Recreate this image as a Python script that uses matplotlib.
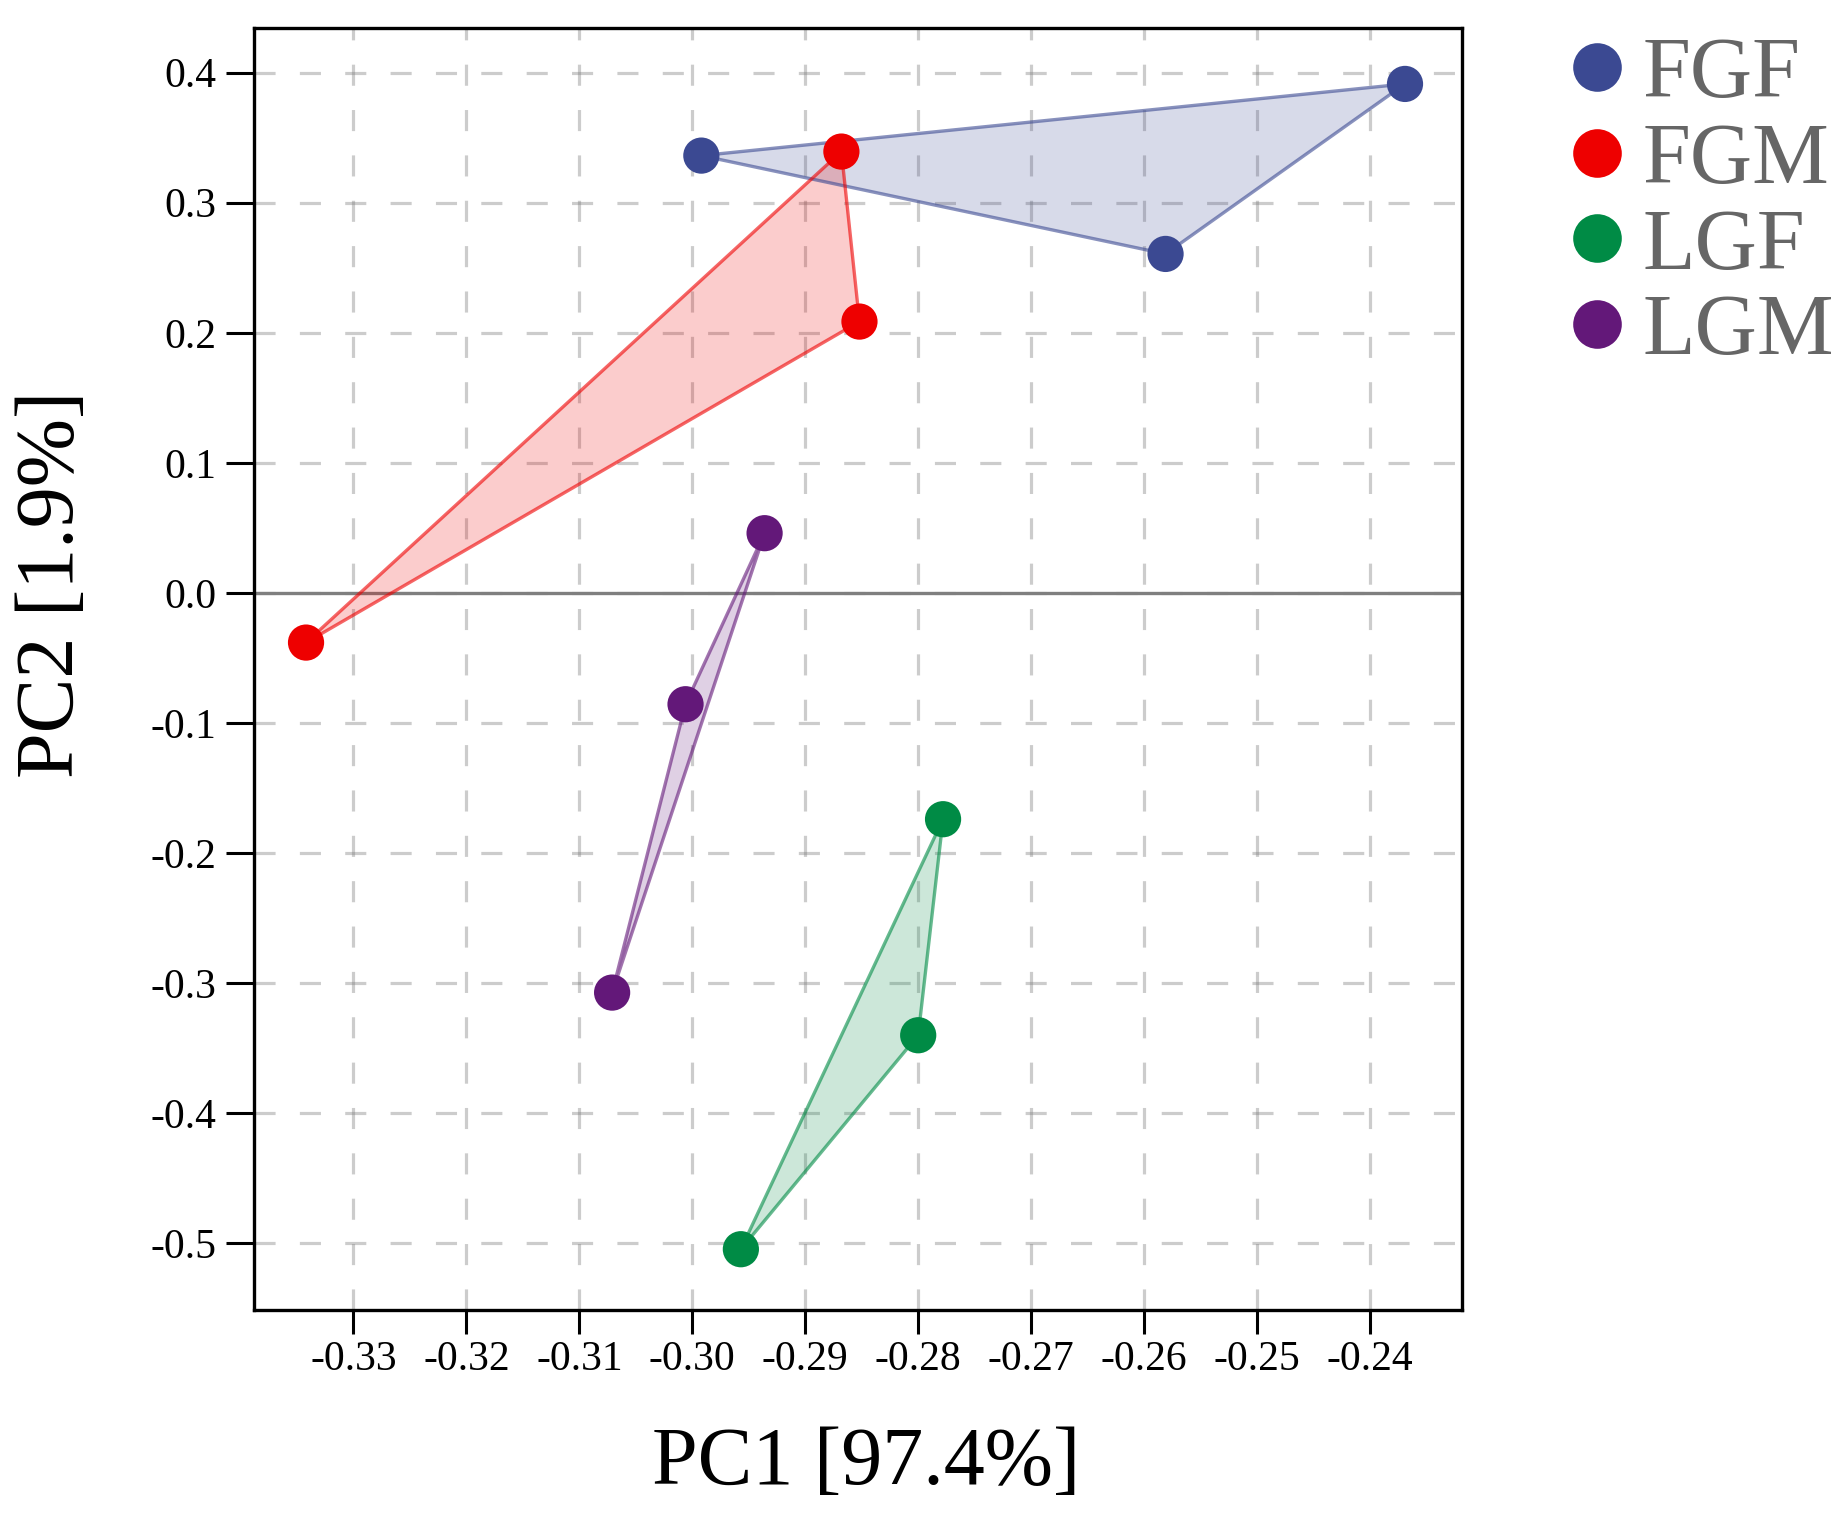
import matplotlib
matplotlib.use("Agg")
import matplotlib.pyplot as plt
from matplotlib.patches import Polygon
from matplotlib.lines import Line2D

plt.rcParams['font.family'] = ['Liberation Serif', 'DejaVu Serif']

# PCA scores
groups = ["FGF", "FGM", "LGF", "LGM"]
colors = ["#3B4992", "#EE0000", "#008B45", "#631879"]
pc1 = {
    "FGF": [-0.2992, -0.2369, -0.2581],
    "FGM": [-0.2868, -0.2852, -0.3342],
    "LGF": [-0.2778, -0.2800, -0.2957],
    "LGM": [-0.2936, -0.3006, -0.3071],
}
pc2 = {
    "FGF": [0.3362, 0.3913, 0.2606],
    "FGM": [0.3393, 0.2086, -0.0382],
    "LGF": [-0.1740, -0.3401, -0.5046],
    "LGM": [0.0459, -0.0856, -0.3073],
}
xticks = [-0.33, -0.32, -0.31, -0.30, -0.29, -0.28, -0.27, -0.26, -0.25, -0.24]
xtick_labels = ["-0.33", "-0.32", "-0.31", "-0.30", "-0.29", "-0.28", "-0.27", "-0.26", "-0.25", "-0.24"]
yticks = [0.4, 0.3, 0.2, 0.1, 0.0, -0.1, -0.2, -0.3, -0.4, -0.5]
ytick_labels = ["0.4", "0.3", "0.2", "0.1", "0.0", "-0.1", "-0.2", "-0.3", "-0.4", "-0.5"]

fig = plt.figure(figsize=(18.44, 15.28), dpi=100)
ax = fig.add_axes([0.1376, 0.1427, 0.6552, 0.8388])

# grid
ax.set_axisbelow(True)
ax.grid(True, color="gray", alpha=0.4, linewidth=2.3, linestyle=(0, (6.6, 7.6)))
ax.axhline(0, color="#7f7f7f", linewidth=2.4, zorder=1)

for g, c in zip(groups, colors):
    pts = list(zip(pc1[g], pc2[g]))
    ax.add_patch(Polygon(pts, closed=True, facecolor=c, alpha=0.2, edgecolor="none", zorder=2))
    ax.add_patch(Polygon(pts, closed=True, fill=False, edgecolor=c, alpha=0.6, linewidth=2.4, zorder=3))
    ax.scatter(pc1[g], pc2[g], s=680, color=c, edgecolors="none", zorder=4)

ax.set_xlim(-0.33883, -0.23186)
ax.set_ylim(-0.5513, 0.4341)
ax.set_xticks(xticks)
ax.set_xticklabels(xtick_labels)
ax.set_yticks(yticks)
ax.set_yticklabels(ytick_labels)
ax.tick_params(axis="both", labelsize=30, width=2.2, color="black")
ax.tick_params(axis="x", length=17, pad=5)
ax.tick_params(axis="y", length=20, pad=7)
for s in ax.spines.values():
    s.set_linewidth(2.4)

ax.set_xlabel("PC1 [97.4%]", fontsize=59, va="center")
ax.xaxis.set_label_coords(0.5067, -0.120)
ax.set_ylabel("PC2 [1.9%]", fontsize=59, va="center")
ax.yaxis.set_label_coords(-0.166, 0.566)

handles = [Line2D([], [], marker="o", linestyle="none", markersize=35,
                  markerfacecolor=c, markeredgecolor="none") for c in colors]
leg = fig.legend(handles, groups, loc="upper left", bbox_to_anchor=(0.8476, 0.9758),
                 frameon=False, fontsize=62, handlelength=0.8, handletextpad=0.12,
                 labelspacing=0.07, borderpad=0, borderaxespad=0)
for t in leg.get_texts():
    t.set_color("#666666")

fig.savefig("out.png", dpi=100)
